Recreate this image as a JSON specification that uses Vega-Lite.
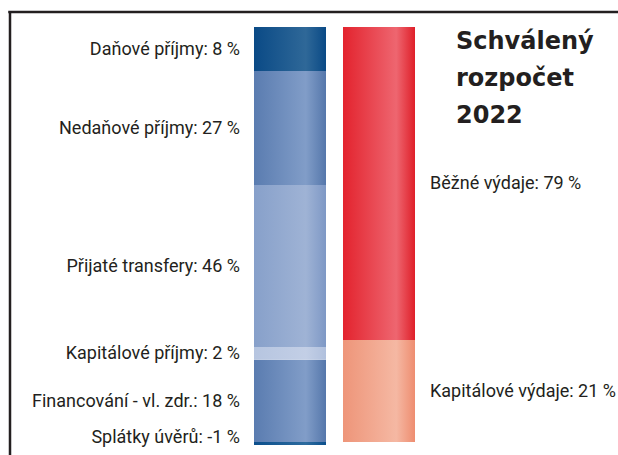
{
  "$schema": "https://vega.github.io/schema/vega-lite/v6.json",
  "autosize": "none",
  "width": 608.5,
  "height": 443,
  "padding": {"left": 9.5, "top": 12, "right": 0, "bottom": 0},
  "config": {
    "view": {"stroke": null},
    "axis": {"domainColor": "#231f20", "domainWidth": 2.5, "domainCap": "square", "labels": false, "ticks": false, "grid": false, "title": null}
  },
  "layer": [
    {
      "data": {"values": [
        {"side": "Příjmy", "item": "Daňové příjmy", "label": "Daňové příjmy: 8 %", "value": 10.6, "order": 5},
        {"side": "Příjmy", "item": "Nedaňové příjmy", "label": "Nedaňové příjmy: 27 %", "value": 27.5, "order": 4},
        {"side": "Příjmy", "item": "Přijaté transfery", "label": "Přijaté transfery: 46 %", "value": 39.0, "order": 3},
        {"side": "Příjmy", "item": "Kapitálové příjmy", "label": "Kapitálové příjmy: 2 %", "value": 3.1, "order": 2},
        {"side": "Příjmy", "item": "Financování - vl. zdr.", "label": "Financování - vl. zdr.: 18 %", "value": 19.8, "order": 1},
        {"side": "Příjmy", "item": "Splátky úvěrů", "label": "Splátky úvěrů: -1 %", "value": -0.7, "order": 0},
        {"side": "Výdaje", "item": "Běžné výdaje", "label": "Běžné výdaje: 79 %", "value": 75.4, "order": 2},
        {"side": "Výdaje", "item": "Kapitálové výdaje", "label": "Kapitálové výdaje: 21 %", "value": 24.6, "order": 1}
      ]},
      "transform": [
        {"stack": "value", "groupby": ["side"], "sort": [{"field": "order", "order": "ascending"}], "as": ["y0", "y1"]},
        {"calculate": "(datum.y0 + datum.y1) / 2", "as": "mid"}
      ],
      "encoding": {
        "x": {"field": "side", "type": "nominal",
          "scale": {"domain": ["Příjmy", "Výdaje"], "range": [244.5, 405.5], "paddingInner": 0.191, "paddingOuter": 0},
          "axis": null},
        "y": {"field": "y1", "type": "quantitative",
          "scale": {"domain": [-3.133, 103.614], "nice": false, "zero": false},
          "axis": {"orient": "left"}},
        "y2": {"field": "y0"}
      },
      "layer": [
        {
          "transform": [{"filter": "datum.item === 'Daňové příjmy'"}],
          "mark": {"type": "bar", "color": {"gradient": "linear", "x1": 0, "y1": 0, "x2": 1, "y2": 0, "stops": [{"offset": 0, "color": "#0a4a86"}, {"offset": 0.72, "color": "#2f6898"}, {"offset": 1, "color": "#0a4a86"}]}}
        },
        {
          "transform": [{"filter": "datum.item === 'Nedaňové příjmy' || datum.item === 'Financování - vl. zdr.'"}],
          "mark": {"type": "bar", "color": {"gradient": "linear", "x1": 0, "y1": 0, "x2": 1, "y2": 0, "stops": [{"offset": 0, "color": "#5a7cb0"}, {"offset": 0.72, "color": "#819dc8"}, {"offset": 1, "color": "#5577ab"}]}}
        },
        {
          "transform": [{"filter": "datum.item === 'Přijaté transfery'"}],
          "mark": {"type": "bar", "color": {"gradient": "linear", "x1": 0, "y1": 0, "x2": 1, "y2": 0, "stops": [{"offset": 0, "color": "#87a0ca"}, {"offset": 0.72, "color": "#9fb3d5"}, {"offset": 1, "color": "#7e98c5"}]}}
        },
        {
          "transform": [{"filter": "datum.item === 'Kapitálové příjmy'"}],
          "mark": {"type": "bar", "color": {"gradient": "linear", "x1": 0, "y1": 0, "x2": 1, "y2": 0, "stops": [{"offset": 0, "color": "#b6c5e0"}, {"offset": 0.72, "color": "#c3cfe6"}, {"offset": 1, "color": "#b0c0dd"}]}}
        },
        {
          "transform": [{"filter": "datum.item === 'Splátky úvěrů'"}],
          "mark": {"type": "bar", "color": {"gradient": "linear", "x1": 0, "y1": 0, "x2": 1, "y2": 0, "stops": [{"offset": 0, "color": "#0c4f8c"}, {"offset": 0.72, "color": "#2d6b9e"}, {"offset": 1, "color": "#0c4f8c"}]}}
        },
        {
          "transform": [{"filter": "datum.item === 'Běžné výdaje'"}],
          "mark": {"type": "bar", "color": {"gradient": "linear", "x1": 0, "y1": 0, "x2": 1, "y2": 0, "stops": [{"offset": 0, "color": "#e3232e"}, {"offset": 0.74, "color": "#ee6670"}, {"offset": 1, "color": "#df1f29"}]}}
        },
        {
          "transform": [{"filter": "datum.item === 'Kapitálové výdaje'"}],
          "mark": {"type": "bar", "color": {"gradient": "linear", "x1": 0, "y1": 0, "x2": 1, "y2": 0, "stops": [{"offset": 0, "color": "#ee9579"}, {"offset": 0.74, "color": "#f5b8a3"}, {"offset": 1, "color": "#ee8d70"}]}}
        },
        {
          "transform": [{"filter": "datum.side === 'Příjmy' && datum.item !== 'Splátky úvěrů'"}],
          "mark": {"type": "text", "align": "right", "baseline": "middle", "dx": -14, "dy": 1, "font": "Roboto", "fontSize": 18, "color": "#231f20"},
          "encoding": {
            "x": {"field": "side", "type": "nominal", "bandPosition": 0},
            "y": {"field": "mid", "type": "quantitative"},
            "y2": null,
            "text": {"field": "label"}
          }
        },
        {
          "transform": [{"filter": "datum.item === 'Splátky úvěrů'"}],
          "mark": {"type": "text", "align": "right", "baseline": "middle", "dx": -14, "dy": -5, "font": "Roboto", "fontSize": 18, "color": "#231f20"},
          "encoding": {
            "x": {"field": "side", "type": "nominal", "bandPosition": 0},
            "y": {"field": "mid", "type": "quantitative"},
            "y2": null,
            "text": {"field": "label"}
          }
        },
        {
          "transform": [{"filter": "datum.side === 'Výdaje'"}],
          "mark": {"type": "text", "align": "left", "baseline": "middle", "dx": 15, "dy": 1, "font": "Roboto", "fontSize": 18, "color": "#231f20"},
          "encoding": {
            "x": {"field": "side", "type": "nominal", "bandPosition": 1},
            "y": {"field": "mid", "type": "quantitative"},
            "y2": null,
            "text": {"field": "label"}
          }
        }
      ]
    },
    {
      "data": {"values": [{}]},
      "mark": {"type": "rule", "color": "#231f20", "strokeWidth": 2.5, "strokeCap": "square"},
      "encoding": {
        "y": {"datum": 103.614, "type": "quantitative"}
      }
    },
    {
      "data": {"values": [{"t": "Schválený\nrozpočet\n2022"}]},
      "mark": {"type": "text", "align": "left", "baseline": "alphabetic", "lineBreak": "\n", "lineHeight": 37, "dx": 41, "dy": 22, "font": "DejaVu Sans", "fontWeight": "bold", "fontSize": 24, "color": "#231f20"},
      "encoding": {
        "x": {"datum": "Výdaje", "type": "nominal", "bandPosition": 1},
        "y": {"datum": 100, "type": "quantitative"},
        "text": {"field": "t"}
      }
    }
  ]
}
